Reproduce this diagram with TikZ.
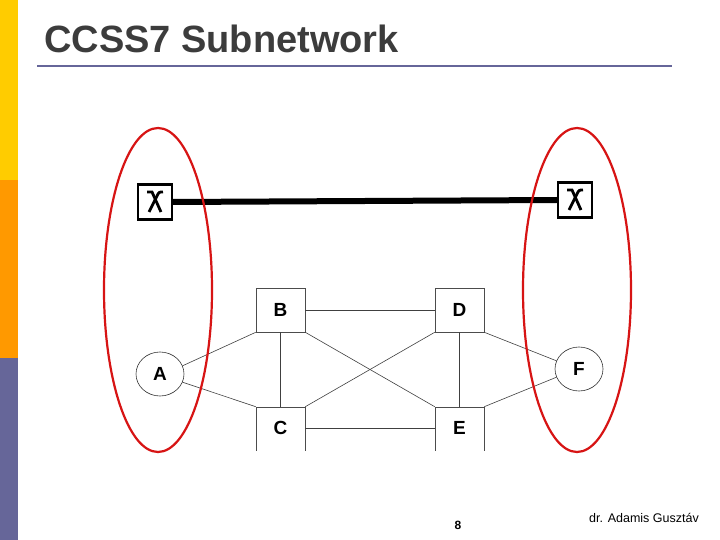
\documentclass[tikz,border=0pt]{standalone}
\usepackage{fontspec}
\setmainfont{Liberation Sans}
\usetikzlibrary{shapes.geometric}
\definecolor{cyel}{RGB}{255,204,0}
\definecolor{corg}{RGB}{255,153,0}
\definecolor{cpur}{RGB}{102,102,153}
\definecolor{cred}{RGB}{215,20,20}
\definecolor{ctit}{RGB}{60,60,60}
\begin{document}
\begin{tikzpicture}[x=1pt,y=-1pt,
  sw/.style={draw,line width=2.4pt,minimum width=34pt,minimum height=35pt,inner sep=0},
  nbox/.style={draw=black!70,line width=0.6pt,minimum width=49pt,minimum height=44pt,font=\bfseries\fontsize{19}{22}\selectfont},
  nell/.style={draw=black!80,ellipse,line width=0.6pt,minimum width=48pt,minimum height=44pt,inner sep=0,font=\bfseries\fontsize{19}{22}\selectfont},
  ln/.style={draw=black!75,line width=0.6pt},
  redell/.style={draw=cred,line width=2.2pt}]
\useasboundingbox (0,0) rectangle (720,540);
\fill[white] (0,0) rectangle (720,540);
\fill[cyel] (0,0) rectangle (18,180);
\fill[corg] (0,180) rectangle (18,358);
\fill[cpur] (0,358) rectangle (18,540);
\node[anchor=west,inner sep=0,font=\bfseries\fontsize{38}{42}\selectfont,text=ctit] (title) at (44,39) {CCSS7 Subnetwork};
\draw[cpur,line width=2pt] (37,66) -- (672,66);
% switches
\node[sw] (s1) at (155,202) {};
\node[sw] (s2) at (575,200) {};
\foreach \s in {s1,s2}{
  \draw[line width=2.8pt] ([shift={(-8,-10)}]\s.center) -- ([shift={(-3,-10)}]\s.center) -- ([shift={(6,10)}]\s.center);
  \draw[line width=2.8pt] ([shift={(8,-10)}]\s.center) .. controls ([shift={(4,-10)}]\s.center) .. ([shift={(2,-6)}]\s.center) -- ([shift={(-6,10)}]\s.center);
}
\draw[line width=6pt] (s1.east) -- (s2.west);
% nodes
\begin{scope}
\clip (0,0) rectangle (720,450);
\node[nbox] (B) at (280.5,310) {B};
\node[nbox] (D) at (459.5,310) {D};
\node[nbox,minimum height=86pt] (C) at (280.5,450) {};
\node[nbox,minimum height=86pt] (E) at (459.5,450) {};
\end{scope}
\node[font=\bfseries\fontsize{19}{22}\selectfont] (Ct) at (280.5,428) {C};
\node[font=\bfseries\fontsize{19}{22}\selectfont] (Et) at (459.5,428) {E};
\node[nell] (A) at (160,374) {A};
\node[nell] (F) at (579,369) {F};
\path[ln] (A.20) -- (B.south west);
\path[ln] (A.-20) -- (C.north west);
\path[ln] (B) -- (D);
\path[ln] (B.south) -- (C.north);
\path[ln] (D.south) -- (E.north);
\path[ln] (B.south east) -- (E.north west);
\path[ln] (D.south west) -- (C.north east);
\path[ln] (D.south east) -- (F.160);
\path[ln] (E.north east) -- (F.200);
\path[ln] (Ct -| C.east) -- (Et -| E.west);
% red ellipses
\draw[redell] (158,290) ellipse [x radius=54, y radius=162];
\draw[redell] (577,290) ellipse [x radius=54, y radius=162];
\node[font=\bfseries\fontsize{12}{14}\selectfont] (pg) at (458,525) {8};
\node[font=\fontsize{12.5}{14}\selectfont] (au) at (644,518) {dr. Adamis Gusztáv};
\end{tikzpicture}
\end{document}
